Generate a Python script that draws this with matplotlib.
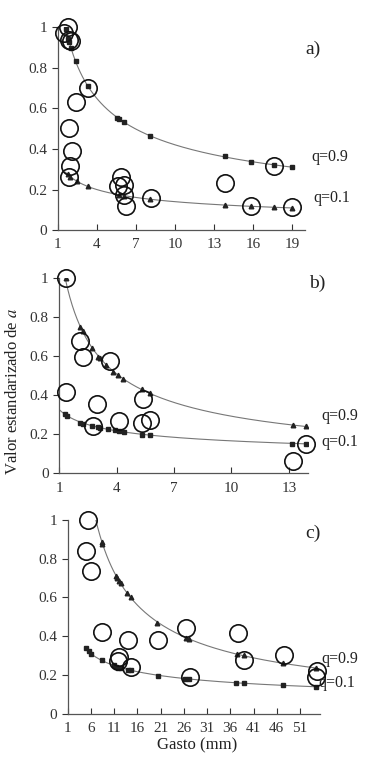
import numpy as np
import matplotlib.pyplot as plt

plt.rcParams["font.family"] = ["Liberation Serif", "DejaVu Serif"]
plt.rcParams["mathtext.fontset"] = "stix"

# panel a)
a_q9_x = [1.61, 1.82, 1.89, 2.05, 2.40, 3.30, 5.57, 5.72, 6.13, 8.10, 13.84, 15.86, 17.62, 18.97]
a_q9_y = [0.990, 0.941, 0.926, 0.900, 0.834, 0.711, 0.555, 0.547, 0.534, 0.466, 0.363, 0.337, 0.320, 0.310]
a_q1_x = [1.77, 1.97, 2.46, 3.35, 5.70, 6.08, 8.12, 13.84, 15.86, 17.62, 18.97]
a_q1_y = [0.277, 0.264, 0.240, 0.215, 0.174, 0.166, 0.154, 0.123, 0.117, 0.113, 0.110]
a_obs_x = [1.82, 1.51, 1.87, 2.02, 2.43, 3.35, 1.87, 2.10, 1.94, 1.87, 5.83, 5.67, 6.08, 6.13, 6.23,
           8.15, 13.84, 15.86, 17.65, 19.0]
a_obs_y = [1.0, 0.970, 0.938, 0.931, 0.631, 0.703, 0.501, 0.388, 0.314, 0.264, 0.264, 0.215, 0.223,
           0.174, 0.120, 0.158, 0.232, 0.117, 0.314, 0.115]

# panel b)
b_q9_x = [1.33, 2.08, 2.22, 2.69, 3.05, 3.12, 3.47, 3.82, 4.08, 4.34, 5.35, 5.73, 13.2, 13.87]
b_q9_y = [1.0, 0.750, 0.727, 0.642, 0.596, 0.588, 0.554, 0.520, 0.503, 0.482, 0.429, 0.409, 0.247, 0.239]
b_q1_x = [1.30, 1.43, 2.08, 2.22, 2.74, 3.05, 3.12, 3.57, 3.90, 4.10, 4.39, 5.35, 5.77, 13.17, 13.87]
b_q1_y = [0.303, 0.293, 0.259, 0.254, 0.242, 0.235, 0.233, 0.225, 0.221, 0.218, 0.211, 0.198, 0.194,
          0.152, 0.150]
b_obs_x = [1.37, 2.11, 2.25, 3.66, 1.38, 3.0, 4.10, 2.76, 5.38, 5.33, 5.77, 13.9, 13.2]
b_obs_y = [1.0, 0.676, 0.596, 0.576, 0.414, 0.353, 0.267, 0.244, 0.380, 0.259, 0.271, 0.150, 0.065]

# panel c)
c_q9_x = [8.31, 8.46, 11.40, 11.69, 12.05, 12.4, 13.84, 14.55, 20.3, 26.5, 27.2, 37.5, 39.0, 47.4, 54.4]
c_q9_y = [0.888, 0.876, 0.711, 0.699, 0.685, 0.675, 0.625, 0.604, 0.470, 0.392, 0.384, 0.306, 0.301,
          0.262, 0.234]
c_q1_x = [4.87, 5.52, 6.02, 8.38, 10.96, 11.5, 11.9, 12.4, 13.9, 14.55, 20.4, 26.3, 27.2, 37.3, 38.9,
          47.4, 54.4]
c_q1_y = [0.337, 0.325, 0.310, 0.275, 0.250, 0.243, 0.238, 0.234, 0.227, 0.224, 0.196, 0.181, 0.179,
          0.160, 0.160, 0.148, 0.138]
c_obs_x = [5.44, 4.94, 6.02, 8.46, 12.1, 11.75, 13.9, 14.7, 20.5, 26.4, 27.3, 37.6, 39.0, 47.5, 54.6, 54.4]
c_obs_y = [1.0, 0.840, 0.737, 0.423, 0.294, 0.274, 0.380, 0.239, 0.380, 0.441, 0.188, 0.415, 0.277,
           0.303, 0.222, 0.188]

panels = [
    dict(rect=[0.153, 0.700, 0.656, 0.2644], xlim=(1, 20), xticks=range(1, 20, 3),
         q9=(a_q9_x, a_q9_y, "s", 1.5), q1=(a_q1_x, a_q1_y, "^", 1.6), obs=(a_obs_x, a_obs_y),
         tag="a)", tag_pos=(313, 49), q9_pos=(330, 157), q1_pos=(332, 198)),
    dict(rect=[0.157, 0.383, 0.660, 0.255], xlim=(1, 14), xticks=range(1, 14, 3),
         q9=(b_q9_x, b_q9_y, "^", 1.3), q1=(b_q1_x, b_q1_y, "s", 1.0), obs=(b_obs_x, b_obs_y),
         tag="b)", tag_pos=(317, 283), q9_pos=(340, 416), q1_pos=(340, 442)),
    dict(rect=[0.1796, 0.0695, 0.669, 0.2525], xlim=(1, 55.3), xticks=range(1, 52, 5),
         q9=(c_q9_x, c_q9_y, "^", 6.0), q1=(c_q1_x, c_q1_y, "s", 4.8), obs=(c_obs_x, c_obs_y),
         tag="c)", tag_pos=(313, 533), q9_pos=(340, 659), q1_pos=(337, 683)),
]

W, H = 377, 767
fig = plt.figure(figsize=(W / 100, H / 100), dpi=100)
line_col = "#555555"

for p in panels:
    ax = fig.add_axes(p["rect"])
    for key in ("q9", "q1"):
        xs, ys, m, x0 = p[key]
        # power-law trend line fitted to the quantile points
        b, a = np.polyfit(np.log(xs), np.log(ys), 1)
        xf = np.linspace(x0, max(xs), 200)
        ax.plot(xf, np.exp(a) * xf ** b, color="#777777", lw=0.8, zorder=2)
        ax.plot(xs, ys, ls="none", marker=m, ms=3.3, color="#222222", zorder=3)
    ax.plot(*p["obs"], ls="none", marker="o", ms=12.5, mfc="none", mec="#111111",
            mew=1.2, zorder=4, clip_on=False)
    ax.set_xlim(*p["xlim"])
    ax.set_ylim(0, 1)
    ax.set_xticks(list(p["xticks"]))
    ax.set_yticks([0, 0.2, 0.4, 0.6, 0.8, 1])
    ax.set_yticklabels(["0", "0.2", "0.4", "0.6", "0.8", "1"])
    for s in ("top", "right"):
        ax.spines[s].set_visible(False)
    for s in ("left", "bottom"):
        ax.spines[s].set_color(line_col)
        ax.spines[s].set_linewidth(0.9)
    ax.tick_params(axis="x", direction="in", length=4, color=line_col, labelsize=11, pad=6)
    ax.tick_params(axis="y", direction="out", length=4, color=line_col, labelsize=11)
    ax.tick_params(colors="#333333", which="both")
    for k, txt, size in (("tag_pos", p["tag"], 14), ("q9_pos", "q=0.9", 11.5), ("q1_pos", "q=0.1", 11.5)):
        x, y = p[k]
        fig.text(x / W, 1 - y / H, txt, fontsize=size, color="#222222", ha="center", va="center")

fig.text(13 / W, 1 - 391 / H, "Valor estandarizado de $\\mathit{a}$", rotation=90, fontsize=12,
         color="#222222", ha="center", va="center")
fig.text(197 / W, 1 - 745 / H, "Gasto (mm)", fontsize=12, color="#222222", ha="center", va="center")

fig.savefig("out.png", dpi=100)
